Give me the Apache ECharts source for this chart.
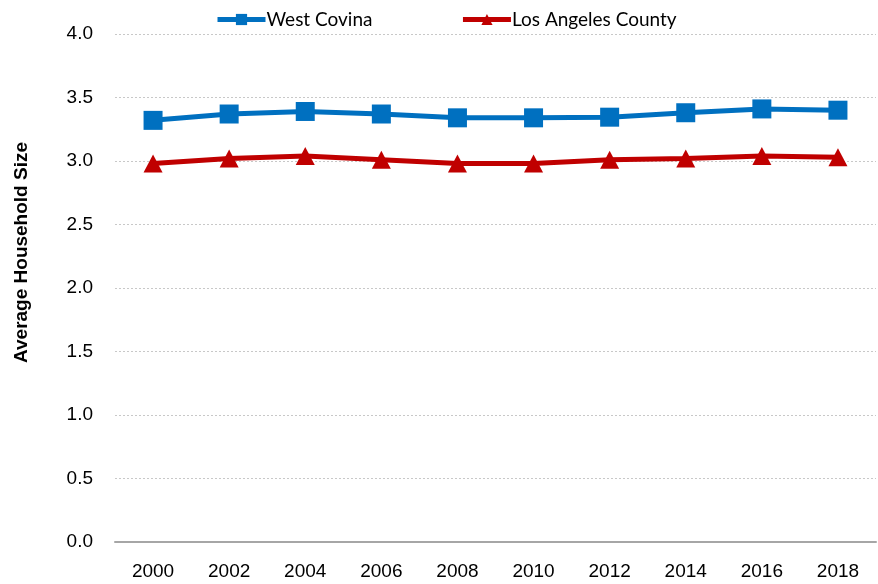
<!DOCTYPE html>
<html>
<head>
<meta charset="utf-8">
<script src="https://cdn.jsdelivr.net/npm/echarts@6/dist/echarts.min.js"></script>
<style>html,body{margin:0;padding:0;background:#fff;}#c{width:878px;height:584px;}</style>
</head>
<body>
<div id="c"></div>
<script>
var years = ['2000','2002','2004','2006','2008','2010','2012','2014','2016','2018'];
var westCovina = [3.32, 3.37, 3.39, 3.37, 3.34, 3.34, 3.345, 3.38, 3.41, 3.40];
var laCounty = [2.98, 3.02, 3.04, 3.01, 2.98, 2.98, 3.01, 3.02, 3.04, 3.03];
var yTicks = [0, 0.5, 1, 1.5, 2, 2.5, 3, 3.5, 4];

var chart = echarts.init(document.getElementById('c'));
chart.setOption({
  animation: false,
  legend: {
    top: 10,
    left: 215,
    padding: 0,
    itemWidth: 48,
    itemHeight: 14,
    itemGap: 88,
    lineStyle: { width: 5 },
    textStyle: { fontFamily: 'Lato', fontSize: 19, color: '#000', padding: [0,0,0,-4] },
    data: ['West Covina', 'Los Angeles County']
  },
  grid: { left: 115, right: 2, top: 34, bottom: 42, containLabel: false },
  xAxis: {
    type: 'category',
    data: years,
    boundaryGap: true,
    axisLine: { lineStyle: { color: '#a6a6a6', width: 2 } },
    axisTick: { show: false },
    axisLabel: { fontFamily: 'Liberation Sans', fontSize: 19, color: '#000', margin: 20 }
  },
  yAxis: {
    type: 'value',
    min: 0, max: 4, interval: 0.5,
    name: 'Average Household Size',
    nameLocation: 'middle',
    nameGap: 84,
    nameRotate: 90,
    nameTextStyle: { fontFamily: 'Liberation Sans', fontWeight: 'bold', fontSize: 19, color: '#000', padding: [0, 0, 0, 71] },
    axisLine: { show: false },
    axisTick: { show: false },
    axisLabel: { fontFamily: 'Liberation Sans', fontSize: 19, color: '#000', margin: 22,
      formatter: function (v) { return v.toFixed(1); } },
    splitLine: { lineStyle: { color: '#c8c8c8', type: [2, 2], width: 1 } }
  },
  series: [
    {
      name: 'West Covina', type: 'line', data: westCovina,
      symbol: 'rect', symbolSize: 19,
      lineStyle: { color: '#0070C0', width: 5 },
      itemStyle: { color: '#0070C0' }
    },
    {
      name: 'Los Angeles County', type: 'line', data: laCounty,
      symbol: 'triangle', symbolSize: [19, 18],
      lineStyle: { color: '#C00000', width: 5 },
      itemStyle: { color: '#C00000' }
    }
  ]
});
</script>
</body>
</html>
